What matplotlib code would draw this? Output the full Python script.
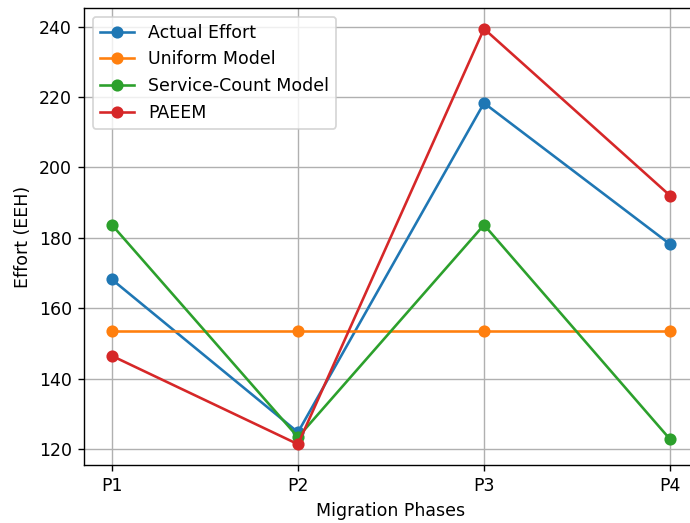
import matplotlib
matplotlib.use("Agg")
import matplotlib.pyplot as plt

phases = ["P1", "P2", "P3", "P4"]
actual_effort = [168.2, 124.8, 218.3, 178.2]
uniform_model = [153.6, 153.6, 153.6, 153.6]
service_count_model = [183.7, 123.4, 183.7, 122.8]
paeem = [146.5, 121.4, 239.4, 192.0]

# the reference looks like a smaller figure rendered at a higher dpi
fig = plt.figure(figsize=(690 / 125, 523 / 125), dpi=125)
ax = fig.add_axes([84 / 690, 58 / 523, 614 / 690, 457 / 523])

ax.plot(phases, actual_effort, marker="o", label="Actual Effort")
ax.plot(phases, uniform_model, marker="o", label="Uniform Model")
ax.plot(phases, service_count_model, marker="o", label="Service-Count Model")
ax.plot(phases, paeem, marker="o", label="PAEEM")

ax.set_xlabel("Migration Phases")
ax.set_ylabel("Effort (EEH)")
ax.legend(loc="upper left")
ax.grid(True)

fig.savefig("out.png", dpi=125)
